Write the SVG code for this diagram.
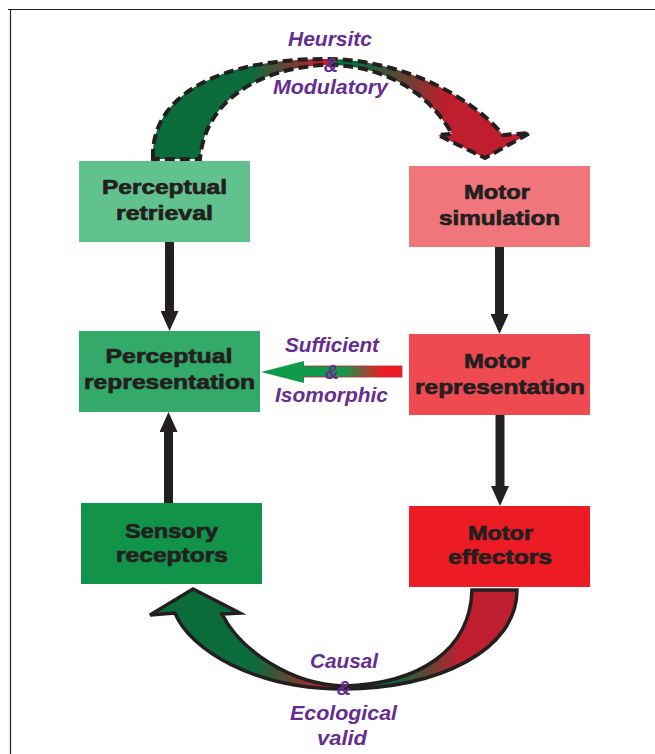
<svg xmlns="http://www.w3.org/2000/svg" width="655" height="754" viewBox="0 0 655 754">
  <style>
    .box { stroke: none; }
    .lbl { font-family: "Liberation Sans", Arial, sans-serif; font-weight: bold; font-size: 21px; fill: #231f20; stroke: #231f20; stroke-width: 0.7px; text-anchor: middle; }
    .rel { font-family: "Liberation Sans", Arial, sans-serif; font-weight: bold; font-style: italic; font-size: 20px; fill: #662d91; text-anchor: middle; }
    .shaft { stroke: #231f20; stroke-width: 9; fill: none; }
    .frame { stroke: #231f20; stroke-width: 1.2; fill: none; }
  </style>
  <defs>
    <marker id="head" viewBox="0 0 20 18" markerUnits="userSpaceOnUse" markerWidth="20" markerHeight="18" refX="5" refY="9" orient="auto">
      <path d="M0,0 L20,9 L0,18 Z" fill="#231f20"/>
    </marker>
    <linearGradient id="gTop" gradientUnits="userSpaceOnUse" x1="153" y1="0" x2="530" y2="0">
      <stop offset="0" stop-color="#0b6b3a"/>
      <stop offset="0.257" stop-color="#0b6b3a"/>
      <stop offset="0.448" stop-color="#be1e2d"/>
      <stop offset="0.467" stop-color="#be1e2d"/>
      <stop offset="0.477" stop-color="#0b6b3a"/>
      <stop offset="0.549" stop-color="#0b6b3a"/>
      <stop offset="0.775" stop-color="#be1e2d"/>
      <stop offset="1" stop-color="#be1e2d"/>
    </linearGradient>
    <linearGradient id="gBot" gradientUnits="userSpaceOnUse" x1="150" y1="0" x2="517" y2="0">
      <stop offset="0" stop-color="#0b6b3a"/>
      <stop offset="0.286" stop-color="#0b6b3a"/>
      <stop offset="0.477" stop-color="#be1e2d"/>
      <stop offset="0.52" stop-color="#be1e2d"/>
      <stop offset="0.531" stop-color="#0b6b3a"/>
      <stop offset="0.668" stop-color="#0b6b3a"/>
      <stop offset="0.845" stop-color="#be1e2d"/>
      <stop offset="1" stop-color="#be1e2d"/>
    </linearGradient>
    <linearGradient id="gMid" gradientUnits="userSpaceOnUse" x1="304" y1="0" x2="402" y2="0">
      <stop offset="0" stop-color="#0f9a4a"/>
      <stop offset="0.4" stop-color="#0f9a4a"/>
      <stop offset="0.8" stop-color="#ec1c24"/>
      <stop offset="1" stop-color="#ec1c24"/>
    </linearGradient>
  </defs>

  <rect width="655" height="754" fill="#ffffff"/>
  <g id="frame">
    <line class="frame" x1="8" y1="9.5" x2="655" y2="9.5"/>
    <line class="frame" x1="10.5" y1="9" x2="10.5" y2="754"/>
  </g>

  <g id="connectors">
    <!-- top dashed curved arrow -->
    <path d="M153,159 C150,95 220,58 330,59 C400,60 470,95 503,135 L530,133 L485,158 L438,135 L452,134 C430,95 390,68 335,65 L325,65 C260,68 205,100 200,159 Z" fill="url(#gTop)" stroke="#231f20" stroke-width="4" stroke-dasharray="10 5" stroke-linejoin="miter"/>
    <!-- bottom curved arrow -->
    <path d="M517,590 C517,650 440,688 343,689 C255,689 190,650 175,613 L150,615 L193,589 L240,613 L222,614 C240,650 290,684 343,686 C420,684 470,650 472,590 Z" fill="url(#gBot)" stroke="#231f20" stroke-width="3.5" stroke-linejoin="miter"/>
    <!-- middle horizontal arrow -->
    <rect x="303" y="366" width="99" height="11" fill="url(#gMid)" stroke="#c1272d" stroke-width="0.8"/>
    <polygon points="261,372 304,361 304,383" fill="#0f9a4a"/>
    <!-- black vertical arrows -->
    <line class="shaft" x1="169.5" y1="242" x2="169.5" y2="316" marker-end="url(#head)"/>
    <line class="shaft" x1="499.5" y1="247" x2="499.5" y2="319" marker-end="url(#head)"/>
    <line class="shaft" x1="168.5" y1="503" x2="168.5" y2="427" marker-end="url(#head)"/>
    <line class="shaft" x1="500" y1="415" x2="500" y2="491" marker-end="url(#head)"/>
  </g>

  <g id="perceptual-retrieval">
    <rect class="box" x="79" y="161" width="171" height="81" fill="#62c28e"/>
    <text class="lbl" x="164.5" y="194" textLength="125" lengthAdjust="spacingAndGlyphs">Perceptual</text>
    <text class="lbl" x="164.5" y="220" textLength="97" lengthAdjust="spacingAndGlyphs">retrieval</text>
  </g>
  <g id="perceptual-representation">
    <rect class="box" x="79" y="331" width="181" height="81" fill="#33aa6a"/>
    <text class="lbl" x="169" y="363" textLength="127" lengthAdjust="spacingAndGlyphs">Perceptual</text>
    <text class="lbl" x="169.5" y="389" textLength="171" lengthAdjust="spacingAndGlyphs">representation</text>
  </g>
  <g id="sensory-receptors">
    <rect class="box" x="81" y="503" width="181" height="81" fill="#12934a"/>
    <text class="lbl" x="171.5" y="538" textLength="93" lengthAdjust="spacingAndGlyphs">Sensory</text>
    <text class="lbl" x="172" y="562" textLength="112" lengthAdjust="spacingAndGlyphs">receptors</text>
  </g>
  <g id="motor-simulation">
    <rect class="box" x="409" y="166" width="181" height="81" fill="#f1767c"/>
    <text class="lbl" x="497" y="199" textLength="66" lengthAdjust="spacingAndGlyphs">Motor</text>
    <text class="lbl" x="499.5" y="225" textLength="121" lengthAdjust="spacingAndGlyphs">simulation</text>
  </g>
  <g id="motor-representation">
    <rect class="box" x="409" y="334" width="181" height="81" fill="#ef4a51"/>
    <text class="lbl" x="497" y="368" textLength="66" lengthAdjust="spacingAndGlyphs">Motor</text>
    <text class="lbl" x="500" y="394" textLength="170" lengthAdjust="spacingAndGlyphs">representation</text>
  </g>
  <g id="motor-effectors">
    <rect class="box" x="409" y="506" width="181" height="81" fill="#ed1c24"/>
    <text class="lbl" x="500.5" y="540" textLength="65" lengthAdjust="spacingAndGlyphs">Motor</text>
    <text class="lbl" x="500" y="564" textLength="104" lengthAdjust="spacingAndGlyphs">effectors</text>
  </g>

  <g id="label-top">
    <text class="rel" x="330" y="46" textLength="84" lengthAdjust="spacingAndGlyphs">Heursitc</text>
    <text class="rel" x="331" y="72">&amp;</text>
    <text class="rel" x="330.5" y="94" textLength="115" lengthAdjust="spacingAndGlyphs">Modulatory</text>
  </g>
  <g id="label-middle">
    <text class="rel" x="332" y="352" textLength="94" lengthAdjust="spacingAndGlyphs">Sufficient</text>
    <text class="rel" x="332" y="379">&amp;</text>
    <text class="rel" x="331.5" y="402" textLength="113" lengthAdjust="spacingAndGlyphs">Isomorphic</text>
  </g>
  <g id="label-bottom">
    <text class="rel" x="344" y="668" textLength="68" lengthAdjust="spacingAndGlyphs">Causal</text>
    <text class="rel" x="344" y="695">&amp;</text>
    <text class="rel" x="343.5" y="720" textLength="107" lengthAdjust="spacingAndGlyphs">Ecological</text>
    <text class="rel" x="342" y="745" textLength="50" lengthAdjust="spacingAndGlyphs">valid</text>
  </g>
</svg>
